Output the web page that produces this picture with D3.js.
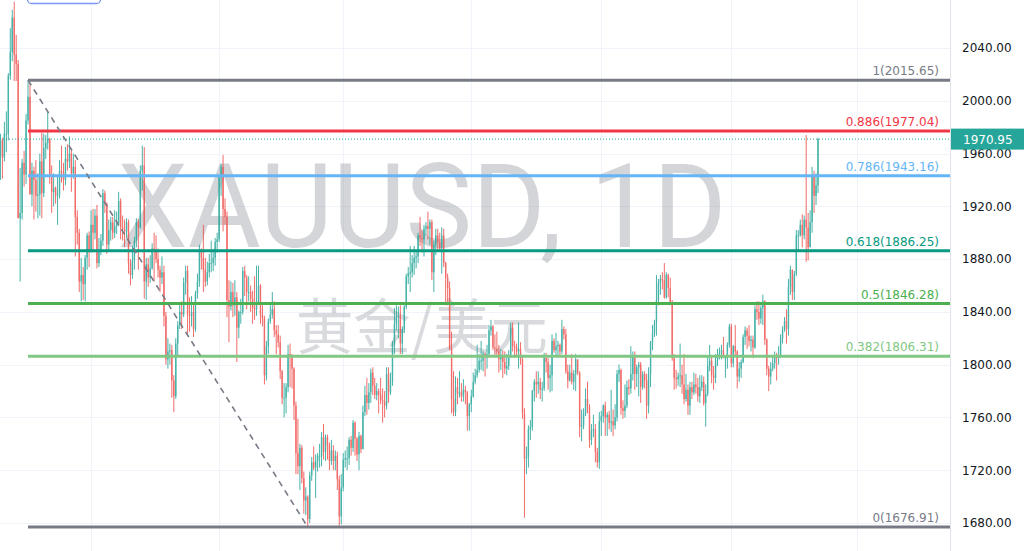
<!DOCTYPE html>
<html><head><meta charset="utf-8">
<script src="https://cdn.jsdelivr.net/npm/d3@7"></script>
<style>html,body{margin:0;padding:0;background:#fff;overflow:hidden}</style>
</head><body><svg id="c" width="1024" height="551"></svg>
<script>
// ---------- data ----------
const priceTicks = [1680,1720,1760,1800,1840,1880,1920,1960,2000,2040];
const fibLevels = [
  {ratio:"1",     value:2015.65},
  {ratio:"0.886", value:1977.04},
  {ratio:"0.786", value:1943.16},
  {ratio:"0.618", value:1886.25},
  {ratio:"0.5",   value:1846.28},
  {ratio:"0.382", value:1806.31},
  {ratio:"0",     value:1676.91}
];
const fibAnchorIndex = [16, 158];          // bar of the swing high, bar of the swing low
const quarterStartIndex = [48,113,176,241,307,373,437];
const lastPrice = 1970.95;
const symbolText = "XAUUSD, 1D";
const symbolDesc = "黄金/美元";
// daily candles [open, high, low, close], Jul 27 2020 .. Mar 4 2022
const candles = [
[1902,1945,1900,1941],[1941,1981,1924,1958],[1958,1975,1940,1970],[1970,1972,1941,1957],[1957,1984,1954,1975],
[1975,1992,1961,1975],[1975,2021,1970,2019],[2019,2055,2016,2037],[2037,2069,2030,2063],[2063,2075,2015,2035],
[2035,2050,2015,2028],[2028,2031,1911,1911],[1911,1949,1863,1915],[1915,1956,1910,1953],[1953,1962,1935,1944],
[1944,1990,1937,1985],[1985,2015.65,1982,2003],[2003,2013,1929,1929],[1929,1953,1920,1947],[1947,1950,1910,1940],
[1940,1955,1916,1928],[1928,1945,1911,1929],[1929,1960,1913,1954],[1954,1976,1911,1930],[1930,1975,1927,1964],[1964,1974,1956,1968],
[1968,1992,1963,1971],[1971,1972,1937,1944],[1944,1951,1915,1931],[1931,1945,1920,1934],[1934,1935,1922,1928],
[1928,1944,1906,1929],[1929,1955,1926,1947],[1947,1966,1938,1946],[1946,1953,1932,1940],[1940,1965,1936,1956],
[1956,1967,1947,1954],[1954,1973,1949,1960],[1960,1963,1931,1945],[1945,1960,1941,1950],[1950,1955,1882,1912],
[1912,1917,1891,1900],[1900,1903,1855,1863],[1863,1881,1848,1868],[1868,1874,1849,1861],[1861,1883,1848,1881],
[1881,1900,1872,1898],[1898,1901,1874,1886],
[1886,1917,1885,1906],[1906,1918,1885,1900],[1900,1918,1895,1913],[1913,1921,1873,1877],[1877,1896,1874,1887],
[1887,1899,1883,1894],[1894,1933,1890,1930],[1930,1932,1915,1922],[1922,1923,1884,1891],[1891,1910,1886,1902],
[1902,1912,1894,1908],[1908,1912,1895,1900],[1900,1917,1896,1905],[1905,1916,1899,1907],[1907,1931,1905,1924],
[1924,1926,1895,1904],[1904,1913,1894,1902],[1902,1910,1889,1901],[1901,1911,1896,1908],[1908,1910,1869,1877],
[1877,1880,1860,1868],[1868,1890,1865,1879],
[1879,1897,1872,1894],[1894,1911,1889,1908],[1908,1910,1872,1904],[1904,1951,1903,1947],[1947,1966,1932,1951],
[1951,1965,1850,1863],[1863,1881,1849,1876],[1876,1881,1859,1866],[1866,1883,1862,1873],[1873,1892,1872,1888],
[1888,1900,1863,1887],[1887,1898,1877,1880],[1880,1888,1866,1872],[1872,1875,1855,1866],[1866,1882,1861,1870],
[1870,1875,1829,1837],[1837,1840,1800,1804],[1804,1820,1797,1810],[1810,1816,1800,1811],[1811,1815,1775,1788],[1788,1792,1764,1776],
[1776,1820,1774,1816],[1816,1833,1806,1830],[1830,1847,1827,1840],[1840,1848,1827,1838],[1838,1866,1836,1862],
[1862,1875,1853,1871],[1871,1875,1823,1838],[1838,1851,1825,1837],[1837,1852,1829,1840],[1840,1845,1821,1827],
[1827,1856,1825,1854],[1854,1869,1850,1863],[1863,1891,1859,1886],[1886,1888,1872,1881],[1881,1906,1855,1872],
[1872,1881,1859,1863],[1863,1878,1860,1870],[1870,1884,1866,1877],[1877,1894,1870,1877],[1877,1887,1871,1881],
[1881,1896,1875,1893],[1893,1900,1885,1895],
[1895,1944,1893,1943],[1943,1952,1928,1950],[1950,1959,1901,1918],[1918,1926,1906,1912],[1912,1916,1836,1849],
[1849,1864,1817,1844],[1844,1863,1841,1855],[1855,1862,1836,1845],[1845,1864,1837,1851],[1851,1855,1802,1828],
[1828,1841,1820,1840],[1840,1850,1831,1840],[1840,1874,1838,1871],[1871,1875,1852,1866],[1866,1868,1842,1855],
[1855,1867,1848,1855],[1855,1860,1840,1850],[1850,1856,1831,1843],[1843,1867,1834,1842],[1842,1875,1837,1847],
[1847,1875,1846,1860],[1860,1861,1831,1838],[1838,1845,1829,1835],[1835,1837,1785,1792],[1792,1818,1788,1814],
[1814,1835,1808,1833],[1833,1845,1831,1838],[1838,1855,1835,1842],[1842,1848,1821,1826],[1826,1830,1808,1823],
[1823,1830,1813,1817],[1817,1822,1789,1795],[1795,1796,1770,1775],[1775,1786,1760,1775],[1775,1786,1763,1783],
[1783,1815,1779,1808],[1808,1816,1783,1806],[1806,1808,1782,1797],[1797,1798,1758,1769],[1769,1772,1717,1733],
[1733,1759,1717,1723],[1723,1740,1705,1737],[1737,1739,1710,1714],[1714,1719,1687,1697],[1697,1707,1686,1700],
[1700,1701,1676.91,1683],[1683,1719,1680,1716],[1716,1730,1712,1726],[1726,1738,1720,1722],[1722,1732,1699,1727],
[1727,1733,1719,1731],[1731,1740,1722,1731],[1731,1749,1723,1745],[1745,1755,1728,1734],[1734,1747,1727,1745],
[1745,1747,1728,1739],[1739,1741,1720,1727],[1727,1743,1724,1735],[1735,1739,1720,1727],[1727,1735,1720,1731],
[1731,1734,1705,1713],[1713,1716,1678,1685],[1685,1717,1679,1707],
[1707,1733,1704,1728],[1728,1735,1722,1729],[1729,1738,1720,1729],[1729,1745,1724,1743],[1743,1746,1731,1737],
[1737,1758,1734,1756],[1756,1757,1731,1744],[1744,1745,1727,1732],[1732,1749,1720,1746],[1746,1747,1733,1736],
[1736,1769,1736,1764],[1764,1784,1761,1777],[1777,1790,1762,1771],[1771,1786,1766,1779],[1779,1797,1771,1794],
[1794,1798,1777,1784],[1784,1790,1774,1777],[1777,1786,1773,1780],[1780,1782,1763,1777],[1777,1790,1770,1773],
[1773,1782,1756,1772],[1772,1780,1760,1769],
[1769,1798,1766,1793],[1793,1798,1771,1779],[1779,1794,1777,1787],[1787,1818,1784,1815],[1815,1843,1808,1831],
[1831,1845,1826,1836],[1836,1844,1820,1837],[1837,1845,1808,1816],[1816,1829,1808,1827],[1827,1845,1824,1844],
[1844,1869,1842,1867],[1867,1874,1861,1869],[1869,1890,1855,1870],[1870,1883,1866,1877],[1877,1890,1868,1881],
[1881,1886,1873,1882],[1882,1900,1877,1898],[1898,1912,1890,1896],[1896,1902,1885,1895],[1895,1906,1882,1903],[1903,1908,1898,1905],
[1905,1916,1895,1903],[1903,1910,1891,1908],[1908,1910,1864,1870],[1870,1894,1855,1891],[1891,1903,1883,1898],
[1898,1903,1887,1893],[1893,1900,1886,1888],[1888,1904,1869,1898],[1898,1903,1874,1877],[1877,1878,1845,1866],
[1866,1869,1845,1858],[1858,1863,1811,1812],[1812,1825,1763,1774],[1774,1795,1761,1764],[1764,1791,1761,1783],
[1783,1790,1770,1778],[1778,1795,1775,1779],[1779,1786,1772,1776],[1776,1789,1772,1781],[1781,1784,1770,1779],
[1779,1780,1750,1761],[1761,1771,1750,1770],
[1770,1781,1764,1776],[1776,1794,1775,1787],[1787,1797,1785,1792],[1792,1815,1790,1796],[1796,1808,1794,1803],
[1803,1818,1796,1803],[1803,1810,1795,1808],[1808,1809,1791,1806],[1806,1815,1797,1808],[1808,1830,1806,1826],
[1826,1834,1822,1829],[1829,1830,1811,1813],[1813,1823,1807,1812],[1812,1825,1806,1810],[1810,1815,1794,1804],
[1804,1812,1796,1806],[1806,1811,1790,1802],[1802,1810,1793,1797],[1797,1808,1792,1799],[1799,1811,1796,1806],
[1806,1832,1805,1828],[1828,1832,1810,1814],
[1814,1818,1805,1813],[1813,1816,1807,1810],[1810,1832,1797,1812],[1812,1817,1800,1804],[1804,1806,1759,1763],
[1763,1767,1684,1729],[1729,1738,1717,1730],[1730,1754,1722,1751],[1751,1758,1743,1753],[1753,1781,1750,1780],
[1780,1789,1772,1787],[1787,1795,1775,1785],[1785,1795,1778,1787],[1787,1790,1774,1781],[1781,1787,1772,1782],
[1782,1809,1780,1805],[1805,1809,1794,1802],[1802,1805,1781,1790],[1790,1800,1779,1792],[1792,1823,1780,1818],
[1818,1820,1809,1811],[1811,1824,1807,1814],
[1814,1818,1807,1815],[1815,1816,1806,1810],[1810,1834,1808,1827],[1827,1829,1819,1823],[1823,1827,1793,1795],
[1795,1800,1782,1788],[1788,1800,1787,1794],[1794,1808,1785,1787],[1787,1796,1781,1793],[1793,1808,1780,1804],
[1804,1804,1792,1794],[1794,1795,1745,1753],[1753,1766,1742,1754],[1754,1767,1751,1763],[1763,1782,1761,1774],
[1774,1787,1763,1768],[1768,1770,1737,1743],[1743,1755,1739,1750],[1750,1762,1745,1751],[1751,1755,1726,1734],
[1734,1737,1722,1726],[1726,1764,1721,1757],
[1757,1765,1746,1761],[1761,1770,1756,1769],[1769,1772,1746,1760],[1760,1764,1746,1762],[1762,1765,1751,1756],
[1756,1781,1749,1757],[1757,1766,1746,1754],[1754,1770,1751,1760],[1760,1796,1757,1793],[1793,1800,1787,1796],
[1796,1797,1762,1767],[1767,1773,1759,1765],[1765,1785,1760,1769],[1769,1788,1767,1783],[1783,1789,1777,1782],
[1782,1814,1778,1793],[1793,1810,1788,1806],[1806,1810,1781,1793],[1793,1800,1783,1798],[1798,1802,1776,1800],[1800,1802,1771,1783],
[1783,1795,1781,1793],[1793,1795,1782,1788],[1788,1793,1759,1769],[1769,1798,1763,1793],[1793,1818,1783,1817],
[1817,1830,1811,1824],[1824,1834,1821,1832],[1832,1868,1822,1849],[1849,1865,1845,1862],[1862,1868,1853,1865],
[1865,1870,1857,1864],[1864,1877,1850,1851],[1851,1870,1850,1868],[1868,1869,1851,1858],[1858,1866,1845,1846],
[1846,1849,1803,1805],[1805,1808,1781,1790],[1790,1796,1782,1789],[1789,1794,1784,1791],[1791,1816,1783,1792],
[1792,1800,1778,1785],[1785,1808,1770,1774],
[1774,1793,1772,1781],[1781,1785,1762,1769],[1769,1787,1762,1783],[1783,1787,1774,1779],[1779,1794,1777,1785],
[1785,1793,1778,1783],[1783,1790,1772,1776],[1776,1792,1771,1783],[1783,1792,1780,1787],[1787,1791,1769,1771],
[1771,1785,1753,1778],[1778,1806,1776,1799],[1799,1815,1795,1803],[1803,1807,1786,1792],[1792,1799,1781,1790],
[1790,1808,1786,1803],[1803,1812,1799,1808],[1808,1813,1804,1809],[1809,1815,1804,1811],[1811,1821,1805,1805],
[1805,1807,1790,1805],[1805,1817,1797,1815],[1815,1831,1813,1829],
[1829,1831,1798,1801],[1801,1815,1798,1814],[1814,1830,1807,1810],[1810,1811,1782,1791],[1791,1802,1787,1797],
[1797,1804,1790,1802],[1802,1823,1801,1821],[1821,1829,1815,1826],[1826,1828,1812,1822],[1822,1830,1814,1818],
[1818,1822,1810,1819],[1819,1822,1805,1813],[1813,1845,1812,1842],[1842,1848,1834,1840],[1840,1848,1830,1835],
[1835,1845,1831,1843],[1843,1853,1830,1848],[1848,1849,1815,1819],[1819,1820,1792,1797],[1797,1799,1780,1791],[1791,1802,1785,1797],
[1797,1807,1795,1801],[1801,1810,1797,1807],[1807,1809,1788,1805],[1805,1814,1800,1807],[1807,1823,1805,1820],
[1820,1829,1816,1826],[1826,1836,1825,1833],[1833,1842,1816,1827],[1827,1865,1822,1859],[1859,1875,1853,1872],
[1872,1872,1849,1855],[1855,1871,1849,1869],[1869,1902,1867,1898],[1898,1902,1887,1898],[1898,1910,1897,1906],
[1906,1914,1889,1898],[1898,1913,1895,1910],[1910,1974,1878,1904],[1904,1915,1879,1889],[1889,1917,1889,1908],
[1908,1950,1900,1943],[1943,1947,1915,1928],[1928,1945,1921,1936],[1936,1972,1930,1970.95]
];

// ---------- styles ----------
const UP = "#26a69a", DOWN = "#ef5350";
const fibColor = {"1":"#787b86","0.886":"#f23645","0.786":"#64b5f6","0.618":"#089981","0.5":"#4caf50","0.382":"#81c784","0":"#787b86"};
const FONT = "'DejaVu Sans', Verdana, sans-serif";

// ---------- layout ----------
const W = 1024, H = 551, paneRight = 950;
const svg = d3.select("#c");
const y = d3.scaleLinear().domain([1680, 2040]).range([523, 48]);
const x = d3.scaleLinear().domain([0, candles.length - 1]).range([-3.5, 818]);

// grid
const grid = svg.append("g");
grid.selectAll("line.h").data(priceTicks).join("line")
  .attr("x1", 0).attr("x2", paneRight)
  .attr("y1", d => Math.round(y(d)) + 0.5).attr("y2", d => Math.round(y(d)) + 0.5)
  .attr("stroke", "#f0f3fa").attr("stroke-width", 1);
grid.selectAll("line.v").data(quarterStartIndex).join("line")
  .attr("y1", 0).attr("y2", H)
  .attr("x1", d => Math.round(x(d)) + 0.5).attr("x2", d => Math.round(x(d)) + 0.5)
  .attr("stroke", "#f0f3fa").attr("stroke-width", 1);

// watermark
svg.append("text").text(symbolText)
  .attr("x", 422).attr("y", 247).attr("text-anchor", "middle")
  .attr("font-family", "Roboto, 'Open Sans', sans-serif").attr("font-size", 116)
  .attr("textLength", 609).attr("lengthAdjust", "spacingAndGlyphs")
  .attr("fill", "rgba(120,123,134,0.32)");
svg.append("text").text(symbolDesc)
  .attr("x", 422).attr("y", 349).attr("text-anchor", "middle")
  .attr("font-family", "'Noto Sans CJK SC', sans-serif").attr("font-size", 60)
  .attr("textLength", 252).attr("lengthAdjust", "spacingAndGlyphs")
  .attr("fill", "rgba(120,123,134,0.28)");

// candles
const cg = svg.append("g").attr("opacity", 0.85);
const bw = 1.4;
cg.selectAll("line.wick").data(candles).join("line")
  .attr("x1", (d, i) => x(i)).attr("x2", (d, i) => x(i))
  .attr("y1", d => y(d[1])).attr("y2", d => y(d[2]))
  .attr("stroke", d => d[3] >= d[0] ? UP : DOWN).attr("stroke-width", 1);
cg.selectAll("rect.body").data(candles).join("rect")
  .attr("x", (d, i) => x(i) - bw / 2).attr("width", bw)
  .attr("y", d => y(Math.max(d[0], d[3])))
  .attr("height", d => Math.max(1, Math.abs(y(d[0]) - y(d[3]))))
  .attr("fill", d => d[3] >= d[0] ? UP : DOWN);

// last price dotted line
svg.append("line")
  .attr("x1", 0).attr("x2", paneRight)
  .attr("y1", y(lastPrice)).attr("y2", y(lastPrice))
  .attr("stroke", UP).attr("stroke-width", 1).attr("stroke-dasharray", "1,2");

// fib levels
const fx0 = x(fibAnchorIndex[0]);
const fg = svg.append("g");
fg.selectAll("line").data(fibLevels).join("line")
  .attr("x1", fx0).attr("x2", paneRight)
  .attr("y1", d => y(d.value)).attr("y2", d => y(d.value))
  .attr("stroke", d => fibColor[d.ratio]).attr("stroke-width", 3);
fg.selectAll("text").data(fibLevels).join("text")
  .attr("x", 939).attr("y", d => y(d.value) - 5)
  .attr("text-anchor", "end").attr("font-family", FONT).attr("font-size", 12)
  .attr("fill", d => fibColor[d.ratio])
  .text(d => `${d.ratio}(${d.value.toFixed(2)})`);

// trend line (dashed)
svg.append("line")
  .attr("x1", fx0).attr("y1", y(fibLevels[0].value))
  .attr("x2", x(fibAnchorIndex[1])).attr("y2", y(fibLevels[fibLevels.length - 1].value))
  .attr("stroke", "#787b86").attr("stroke-width", 1.6).attr("stroke-dasharray", "6,5");

// small blue box at top left
svg.append("rect").attr("x", 27.5).attr("y", -20).attr("width", 73).attr("height", 23.5)
  .attr("rx", 4).attr("fill", "#fff").attr("stroke", "#7b97f5").attr("stroke-width", 1.3);

// price axis
svg.append("rect").attr("x", paneRight).attr("y", 0).attr("width", W - paneRight).attr("height", H).attr("fill", "#fff");
svg.append("line").attr("x1", paneRight + 0.5).attr("x2", paneRight + 0.5).attr("y1", 0).attr("y2", H)
  .attr("stroke", "#e0e3eb");
const axis = d3.axisRight(y).tickValues(priceTicks).tickFormat(d3.format(".2f")).tickSize(0).tickPadding(12);
const ag = svg.append("g").attr("transform", `translate(${paneRight},0)`).call(axis);
ag.select(".domain").remove();
ag.selectAll("text").attr("font-family", FONT).attr("font-size", 12).attr("fill", "#131722");

// last price label
const ly = y(lastPrice);
svg.append("rect").attr("x", paneRight + 1).attr("y", ly - 10.5).attr("width", W - paneRight).attr("height", 21)
  .attr("fill", UP);
svg.append("text").attr("x", 963).attr("y", ly + 4.5).attr("font-family", FONT).attr("font-size", 12)
  .attr("fill", "#fff").text(d3.format(".2f")(lastPrice));
</script>
</body></html>
